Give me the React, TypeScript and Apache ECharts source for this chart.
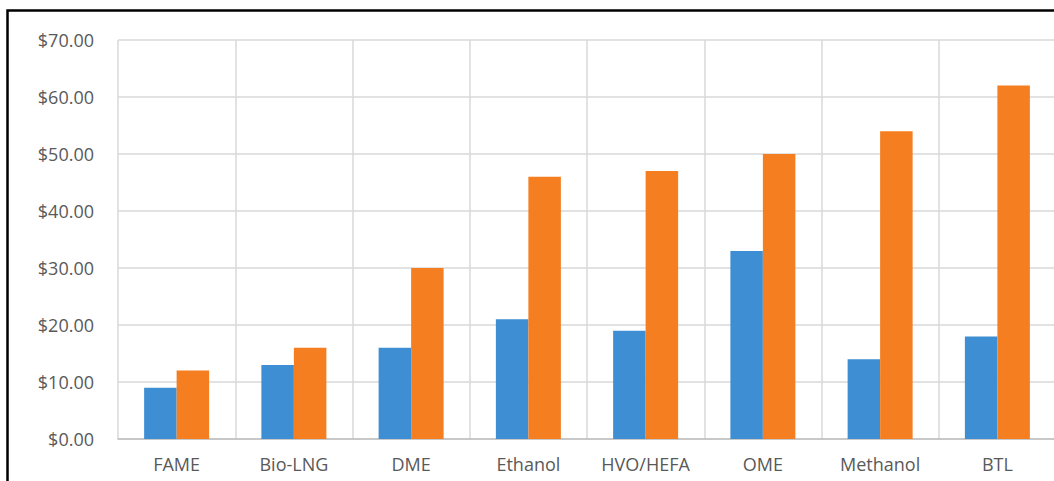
import React, { useEffect, useRef } from "react";
import * as echarts from "echarts";

// Fuel pathways and their cost per unit for the two series
const categories = ["FAME", "Bio-LNG", "DME", "Ethanol", "HVO/HEFA", "OME", "Methanol", "BTL"];
const seriesLow = [9, 13, 16, 21, 19, 33, 14, 18];
const seriesHigh = [12, 16, 30, 46, 47, 50, 54, 62];
const yMin = 0;
const yMax = 70;
const yStep = 10;

const BLUE = "#3e8ed3";
const ORANGE = "#f47e20";
const TEXT = "#595959";
const GRID = "#d9d9d9";

export default function App() {
  const ref = useRef<HTMLDivElement>(null);

  useEffect(() => {
    if (!ref.current) return;
    const chart = echarts.init(ref.current, null, { renderer: "svg" });
    chart.setOption({
      animation: false,
      backgroundColor: "#ffffff",
      textStyle: { fontFamily: "'Open Sans', 'Noto Sans', sans-serif" },
      graphic: [
        {
          type: "rect",
          shape: { x: 7.5, y: 10.5, width: 1100, height: 520 },
          style: { fill: "none", stroke: "#000000", lineWidth: 2.5 },
          silent: true,
        },
      ],
      // the plot runs past the visible right edge, so the last divider stays hidden
      grid: { left: 118, right: 24, top: 40, bottom: 42, containLabel: false },
      xAxis: {
        type: "category",
        data: categories,
        axisLine: { show: true, lineStyle: { color: "#bfbfbf", width: 1.5 } },
        axisTick: { show: false },
        splitLine: { show: true, lineStyle: { color: GRID, width: 1.5 } },
        axisLabel: { color: TEXT, fontSize: 18, margin: 16, interval: 0 },
      },
      yAxis: {
        type: "value",
        min: yMin,
        max: yMax,
        interval: yStep,
        axisLine: { show: false },
        axisTick: { show: false },
        splitLine: { show: true, lineStyle: { color: GRID, width: 1.5 } },
        axisLabel: {
          color: TEXT,
          fontSize: 18,
          margin: 24,
          formatter: (v: number) => "$" + v.toFixed(2),
        },
      },
      series: [
        {
          type: "bar",
          data: seriesLow,
          itemStyle: { color: BLUE },
          barWidth: 32.5,
          barGap: "0%",
        },
        {
          type: "bar",
          data: seriesHigh,
          itemStyle: { color: ORANGE },
          barWidth: 32.5,
          barGap: "0%",
        },
      ],
    });
    return () => chart.dispose();
  }, []);

  return (
    <div
      style={{
        position: "fixed",
        left: 0,
        top: 0,
        width: 1054,
        height: 481,
        overflow: "hidden",
        background: "#fff",
      }}
    >
      <div ref={ref} style={{ width: 1080, height: 481 }} />
    </div>
  );
}
